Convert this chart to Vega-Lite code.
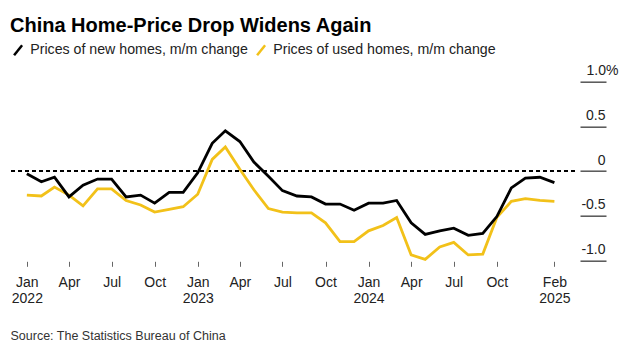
{
  "$schema": "https://vega.github.io/schema/vega-lite/v6.json",
  "autosize": {"type": "none"},
  "padding": {"left": 10, "top": 81.7, "right": 49, "bottom": 90.7},
  "width": 565,
  "height": 178.6,
  "background": "#ffffff",
  "title": {
    "text": "China Home-Price Drop Widens Again",
    "anchor": "start",
    "frame": "group",
    "font": "Liberation Sans",
    "fontSize": 20,
    "fontWeight": "bold",
    "color": "#000000",
    "offset": 7
  },
  "data": {
    "values": [
      {"date": "2022-01-01T00:00:00", "new": -0.03, "used": -0.27},
      {"date": "2022-02-01T00:00:00", "new": -0.12, "used": -0.28},
      {"date": "2022-03-01T00:00:00", "new": -0.07, "used": -0.18},
      {"date": "2022-04-01T00:00:00", "new": -0.29, "used": -0.27},
      {"date": "2022-05-01T00:00:00", "new": -0.16, "used": -0.39},
      {"date": "2022-06-01T00:00:00", "new": -0.09, "used": -0.20},
      {"date": "2022-07-01T00:00:00", "new": -0.09, "used": -0.20},
      {"date": "2022-08-01T00:00:00", "new": -0.29, "used": -0.33},
      {"date": "2022-09-01T00:00:00", "new": -0.27, "used": -0.38},
      {"date": "2022-10-01T00:00:00", "new": -0.36, "used": -0.46},
      {"date": "2022-11-01T00:00:00", "new": -0.24, "used": -0.43},
      {"date": "2022-12-01T00:00:00", "new": -0.24, "used": -0.40},
      {"date": "2023-01-01T00:00:00", "new": -0.02, "used": -0.26},
      {"date": "2023-02-01T00:00:00", "new": 0.31, "used": 0.13},
      {"date": "2023-03-01T00:00:00", "new": 0.45, "used": 0.27},
      {"date": "2023-04-01T00:00:00", "new": 0.33, "used": 0.02},
      {"date": "2023-05-01T00:00:00", "new": 0.10, "used": -0.21},
      {"date": "2023-06-01T00:00:00", "new": -0.06, "used": -0.42},
      {"date": "2023-07-01T00:00:00", "new": -0.22, "used": -0.46},
      {"date": "2023-08-01T00:00:00", "new": -0.28, "used": -0.47},
      {"date": "2023-09-01T00:00:00", "new": -0.29, "used": -0.47},
      {"date": "2023-10-01T00:00:00", "new": -0.37, "used": -0.58},
      {"date": "2023-11-01T00:00:00", "new": -0.37, "used": -0.79},
      {"date": "2023-12-01T00:00:00", "new": -0.44, "used": -0.79},
      {"date": "2024-01-01T00:00:00", "new": -0.36, "used": -0.67},
      {"date": "2024-02-01T00:00:00", "new": -0.36, "used": -0.61},
      {"date": "2024-03-01T00:00:00", "new": -0.33, "used": -0.52},
      {"date": "2024-04-01T00:00:00", "new": -0.58, "used": -0.94},
      {"date": "2024-05-01T00:00:00", "new": -0.71, "used": -0.99},
      {"date": "2024-06-01T00:00:00", "new": -0.67, "used": -0.85},
      {"date": "2024-07-01T00:00:00", "new": -0.64, "used": -0.80},
      {"date": "2024-08-01T00:00:00", "new": -0.72, "used": -0.94},
      {"date": "2024-09-01T00:00:00", "new": -0.70, "used": -0.93},
      {"date": "2024-10-01T00:00:00", "new": -0.51, "used": -0.52},
      {"date": "2024-11-01T00:00:00", "new": -0.19, "used": -0.34},
      {"date": "2024-12-01T00:00:00", "new": -0.08, "used": -0.31},
      {"date": "2025-01-01T00:00:00", "new": -0.07, "used": -0.33},
      {"date": "2025-02-01T00:00:00", "new": -0.13, "used": -0.34}
    ]
  },
  "layer": [
    {
      "mark": {"type": "rule", "strokeDash": [4, 3], "strokeWidth": 1.4, "color": "#000000"},
      "encoding": {"y": {"datum": 0, "type": "quantitative"}}
    },
    {
      "transform": [{"fold": ["used", "new"], "as": ["series", "value"]}],
      "mark": {"type": "line", "strokeWidth": 2.8, "strokeJoin": "miter"},
      "encoding": {
        "x": {
          "field": "date",
          "type": "temporal",
          "scale": {
            "domain": [{"year": 2021, "month": 11, "date": 26}, {"year": 2025, "month": 3, "date": 17}]
          },
          "axis": {
            "orient": "bottom",
            "domain": false,
            "grid": false,
            "ticks": true,
            "tickSize": 5,
            "tickColor": "#666666",
            "tickWidth": 1,
            "offset": 1,
            "values": [
              {"year": 2022, "month": 1, "date": 1},
              {"year": 2022, "month": 4, "date": 1},
              {"year": 2022, "month": 7, "date": 1},
              {"year": 2022, "month": 10, "date": 1},
              {"year": 2023, "month": 1, "date": 1},
              {"year": 2023, "month": 4, "date": 1},
              {"year": 2023, "month": 7, "date": 1},
              {"year": 2023, "month": 10, "date": 1},
              {"year": 2024, "month": 1, "date": 1},
              {"year": 2024, "month": 4, "date": 1},
              {"year": 2024, "month": 7, "date": 1},
              {"year": 2024, "month": 10, "date": 1},
              {"year": 2025, "month": 2, "date": 1}
            ],
            "labelExpr": "(month(datum.value) == 0 || year(datum.value) == 2025) ? [timeFormat(datum.value, '%b'), timeFormat(datum.value, '%Y')] : timeFormat(datum.value, '%b')",
            "labelFont": "Liberation Sans",
            "labelFontSize": 14,
            "labelLineHeight": 16,
            "labelPadding": 9,
            "labelColor": "#222222",
            "labelFlush": false,
            "labelOverlap": false,
            "title": "Source: The Statistics Bureau of China",
            "titleFont": "Liberation Sans",
            "titleFontSize": 12.5,
            "titleFontWeight": "normal",
            "titleColor": "#333333",
            "titleAnchor": "start",
            "titleAlign": "left",
            "titleBaseline": "alphabetic",
            "titleX": 0,
            "titleY": 77.7
          }
        },
        "y": {
          "field": "value",
          "type": "quantitative",
          "scale": {"domain": [-1, 1], "nice": false, "zero": false},
          "axis": {
            "orient": "right",
            "domain": false,
            "grid": false,
            "ticks": true,
            "tickSize": 26,
            "tickColor": "#555555",
            "tickWidth": 1.5,
            "offset": 5,
            "values": [-1, -0.5, 0, 0.5, 1],
            "labelExpr": "datum.value == 1 ? '1.0%' : datum.value == 0 ? '0' : (datum.value < 0 ? '-' + format(-datum.value, '.1f') : format(datum.value, '.1f'))",
            "labelAlign": "right",
            "labelBaseline": "alphabetic",
            "labelPadding": {"condition": {"test": "datum.value == 1", "value": 12}, "value": -1},
            "labelOffset": -7,
            "labelFont": "Liberation Sans",
            "labelFontSize": 14,
            "labelColor": "#222222",
            "labelFlush": false,
            "labelOverlap": false,
            "title": null
          }
        },
        "color": {
          "field": "series",
          "type": "nominal",
          "scale": {"domain": ["new", "used"], "range": ["#000000", "#F2C119"]},
          "legend": {
            "orient": "none",
            "legendX": 1,
            "legendY": -39,
            "direction": "horizontal",
            "title": null,
            "symbolType": "M-0.8,1L0.8,-1",
            "symbolSize": 100,
            "symbolStrokeWidth": 2.5,
            "labelExpr": "datum.value == 'new' ? 'Prices of new homes, m/m change' : 'Prices of used homes, m/m change'",
            "labelFont": "Liberation Sans",
            "labelFontSize": 14.2,
            "labelColor": "#222222",
            "labelOffset": 5,
            "columnPadding": 4,
            "labelLimit": 400
          }
        }
      }
    }
  ],
  "config": {"view": {"stroke": null}}
}
